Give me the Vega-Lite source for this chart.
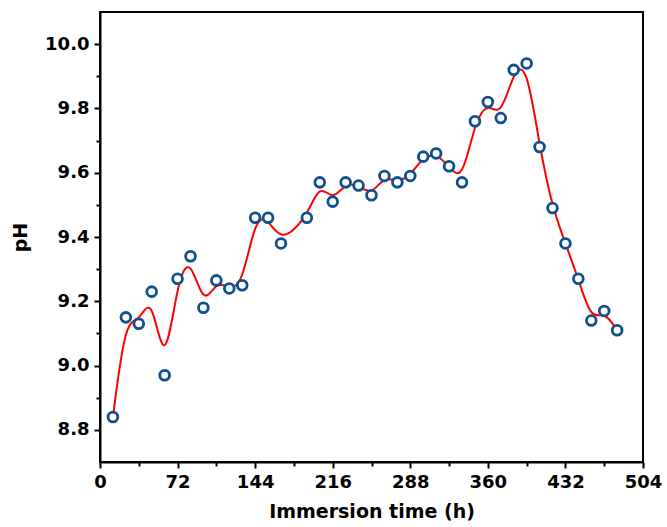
{
  "$schema": "https://vega.github.io/schema/vega-lite/v6.json",
  "width": 543,
  "height": 450,
  "autosize": "none",
  "padding": {"left": 100, "top": 12, "right": 24, "bottom": 65},
  "background": "white",
  "config": {
    "view": {"stroke": "black", "strokeWidth": 2},
    "font": "DejaVu Sans",
    "axis": {
      "domainColor": "black",
      "domainWidth": 2,
      "tickColor": "black",
      "tickWidth": 2,
      "grid": false,
      "labelFont": "DejaVu Sans",
      "labelFontWeight": "bold",
      "labelFontSize": 18,
      "labelColor": "black",
      "titleFont": "DejaVu Sans",
      "titleFontWeight": "bold",
      "titleFontSize": 19,
      "titleColor": "black"
    }
  },
  "data": {
    "values": [
      {"t": 12, "pH": 8.84},
      {"t": 24, "pH": 9.15},
      {"t": 36, "pH": 9.13},
      {"t": 48, "pH": 9.23},
      {"t": 60, "pH": 8.97},
      {"t": 72, "pH": 9.27},
      {"t": 84, "pH": 9.34},
      {"t": 96, "pH": 9.18},
      {"t": 108, "pH": 9.265},
      {"t": 120, "pH": 9.24},
      {"t": 132, "pH": 9.25},
      {"t": 144, "pH": 9.46},
      {"t": 156, "pH": 9.46},
      {"t": 168, "pH": 9.38},
      {"t": 192, "pH": 9.46},
      {"t": 204, "pH": 9.57},
      {"t": 216, "pH": 9.51},
      {"t": 228, "pH": 9.57},
      {"t": 240, "pH": 9.56},
      {"t": 252, "pH": 9.53},
      {"t": 264, "pH": 9.59},
      {"t": 276, "pH": 9.57},
      {"t": 288, "pH": 9.59},
      {"t": 300, "pH": 9.65},
      {"t": 312, "pH": 9.66},
      {"t": 324, "pH": 9.62},
      {"t": 336, "pH": 9.57},
      {"t": 348, "pH": 9.76},
      {"t": 360, "pH": 9.82},
      {"t": 372, "pH": 9.77},
      {"t": 384, "pH": 9.92},
      {"t": 396, "pH": 9.94},
      {"t": 408, "pH": 9.68},
      {"t": 420, "pH": 9.49},
      {"t": 432, "pH": 9.38},
      {"t": 444, "pH": 9.27},
      {"t": 456, "pH": 9.14},
      {"t": 468, "pH": 9.17},
      {"t": 480, "pH": 9.11}
    ]
  },
  "encoding": {
    "x": {
      "field": "t",
      "type": "quantitative",
      "scale": {"domain": [0, 504], "nice": false, "zero": false},
      "axis": {
        "title": "Immersion time (h)",
        "values": [0, 36, 72, 108, 144, 180, 216, 252, 288, 324, 360, 396, 432, 468, 504],
        "labelExpr": "datum.value % 72 === 0 ? datum.label : ''",
        "tickSize": {"condition": {"test": "datum.value % 72 === 0", "value": 6}, "value": 4},
        "labelPadding": 5,
        "titlePadding": 11,
        "labelFlush": false,
        "labelOverlap": false
      }
    },
    "y": {
      "field": "pH",
      "type": "quantitative",
      "scale": {"domain": [8.7, 10.1], "nice": false, "zero": false},
      "axis": {
        "title": "pH",
        "values": [8.8, 8.9, 9.0, 9.1, 9.2, 9.3, 9.4, 9.5, 9.6, 9.7, 9.8, 9.9, 10.0],
        "labelExpr": "round(datum.value * 10) % 2 === 0 ? format(datum.value, '.1f') : ''",
        "tickSize": {"condition": {"test": "round(datum.value * 10) % 2 === 0", "value": 6}, "value": 4},
        "labelPadding": 5,
        "titlePadding": 14,
        "labelFlush": false,
        "labelOverlap": false
      }
    }
  },
  "layer": [
    {
      "mark": {"type": "line", "interpolate": "basis", "color": "#ff0000", "strokeWidth": 2}
    },
    {
      "mark": {"type": "point", "shape": "circle", "filled": false, "fill": "white", "fillOpacity": 1, "stroke": "#0e4f8f", "strokeWidth": 2.8, "size": 95, "opacity": 1}
    }
  ]
}
